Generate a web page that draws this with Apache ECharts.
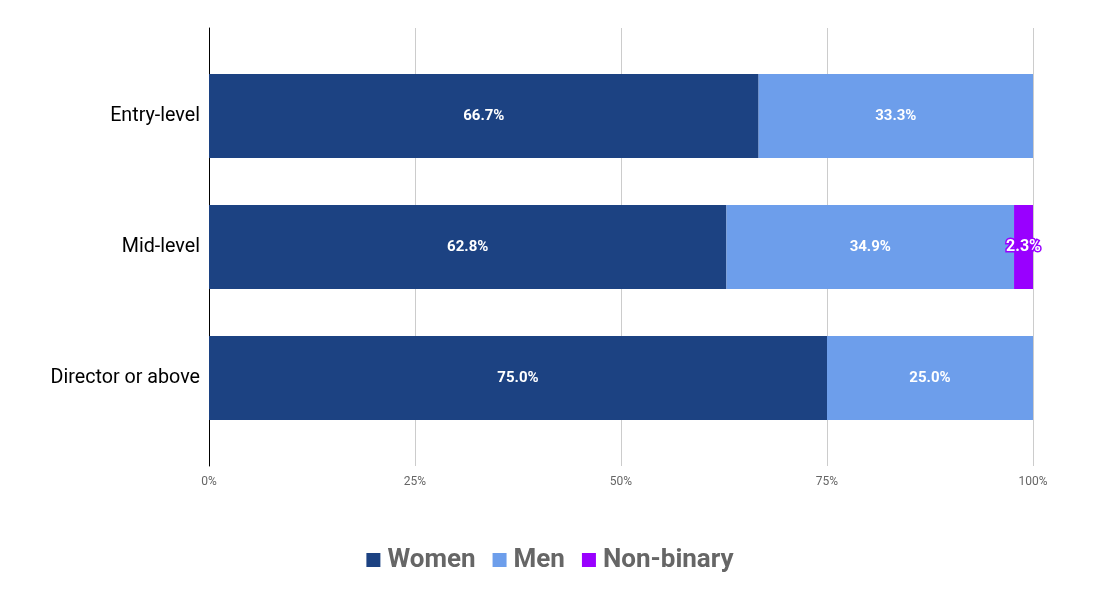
<!DOCTYPE html>
<html>
<head>
<meta charset="utf-8">
<script src="https://cdn.jsdelivr.net/npm/echarts@6/dist/echarts.min.js"></script>
<style>
  html, body { margin: 0; padding: 0; background: #fff; }
  #chart { width: 1100px; height: 600px; }
</style>
</head>
<body>
<div id="chart"></div>
<script>
// data
const levels = ['Entry-level', 'Mid-level', 'Director or above']
const women = [66.7, 62.8, 75.0]
const men = [33.3, 34.9, 25.0]
const nonBinary = [0, 2.3, 0]
const xTicks = [0, 25, 50, 75, 100]

const pctLabel = (p) => p.value > 0 ? p.value.toFixed(1) + '%' : ''

function makeSeries(name, data, color, extraLabel) {
    return {
        name: name,
        type: 'bar',
        stack: 'total',
        data: data,
        barCategoryGap: '36%',
        itemStyle: { color: color },
        label: Object.assign({
            show: true,
            position: 'inside',
            formatter: pctLabel,
            color: '#fff',
            fontFamily: 'Roboto',
            fontWeight: 'bold',
            fontSize: 15
        }, extraLabel || {})
    }
}

var chart = echarts.init(document.getElementById('chart'), null, { renderer: 'canvas' })
var option = {
    animation: false,
    textStyle: { fontFamily: 'Roboto' },
    // grid 0 holds the bars, grid 1 only draws the frame (axis line + gridlines)
    grid: [
        { left: 209, right: 67, top: 50.5, bottom: 156.5, containLabel: false },
        { left: 209, right: 67, top: 28, bottom: 134, containLabel: false }
    ],
    legend: {
        bottom: 22,
        left: 'center',
        itemWidth: 14,
        itemHeight: 14,
        itemGap: 17,
        icon: 'rect',
        textStyle: { color: '#666', fontSize: 26, fontWeight: 'bold', fontFamily: 'Roboto', padding: [0, 0, 0, 2] },
        data: ['Women', 'Men', 'Non-binary']
    },
    xAxis: [
        {
            gridIndex: 0,
            type: 'value',
            min: 0,
            max: 100,
            interval: 25,
            axisLine: { show: false },
            axisTick: { show: false },
            splitLine: { show: false },
            axisLabel: { show: false }
        },
        {
            gridIndex: 1,
            type: 'value',
            min: 0,
            max: 100,
            interval: 25,
            axisLine: { show: false },
            axisTick: { show: false },
            splitLine: { lineStyle: { color: '#ccc' } },
            axisLabel: {
                color: '#666',
                fontSize: 12,
                margin: 10,
                formatter: (v) => xTicks.indexOf(v) >= 0 ? v + '%' : ''
            }
        }
    ],
    yAxis: [
        {
            gridIndex: 0,
            type: 'category',
            inverse: true,
            data: levels,
            axisLine: { show: false },
            axisTick: { show: false },
            axisLabel: { color: '#000', fontSize: 19.7, margin: 9 }
        },
        {
            gridIndex: 1,
            type: 'value',
            min: 0,
            max: 1,
            axisLine: { show: true, lineStyle: { color: '#000' } },
            axisTick: { show: false },
            axisLabel: { show: false },
            splitLine: { show: false }
        }
    ],
    series: [
        makeSeries('Women', women, '#1c4282'),
        makeSeries('Men', men, '#6d9eeb'),
        makeSeries('Non-binary', nonBinary, '#9900ff', {
            textBorderColor: '#9900ff',
            textBorderWidth: 3,
            fontSize: 16
        })
    ]
}
chart.setOption(option)
window.addEventListener('resize', chart.resize)
</script>
</body>
</html>
